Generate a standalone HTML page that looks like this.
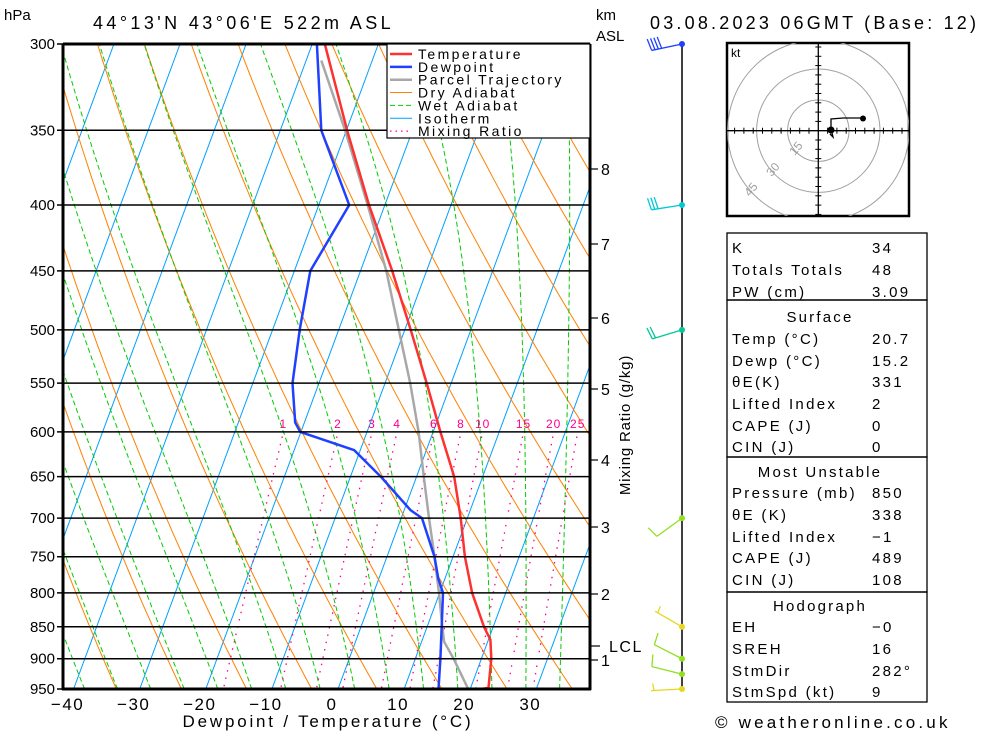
<!DOCTYPE html>
<html><head><meta charset="utf-8"><style>
html,body{margin:0;padding:0;background:#fff;}
svg{display:block;font-family:"Liberation Sans",sans-serif;}
</style></head><body>
<svg id="c" width="1000" height="733" viewBox="0 0 1000 733">
<defs><clipPath id="plotclip"><rect x="63" y="44" width="527" height="645"/></clipPath>
<clipPath id="hodoclip"><rect x="727" y="43" width="182" height="173"/></clipPath></defs>
<g id="grid" clip-path="url(#plotclip)"></g>
<g id="series" clip-path="url(#plotclip)"></g>
<g id="axes"></g>
<text x="4" y="20" font-size="15">hPa</text>
<text x="93" y="29" font-size="18" letter-spacing="3.4">44°13'N 43°06'E 522m ASL</text>
<text x="596" y="20" font-size="15">km</text>
<text x="596" y="41" font-size="15">ASL</text>
<text x="650" y="29" font-size="18" letter-spacing="3.2">03.08.2023 06GMT (Base: 12)</text>
<text x="328" y="727" font-size="17" text-anchor="middle" letter-spacing="2.8">Dewpoint / Temperature (°C)</text>
<text transform="translate(630,425) rotate(-90)" font-size="15" text-anchor="middle" letter-spacing="0.8">Mixing Ratio (g/kg)</text>
<g id="legend"></g>
<g id="winds"></g>
<g id="hodo"></g>
<g id="table"></g>
<text x="715" y="728" font-size="17" letter-spacing="3.2">© weatheronline.co.uk</text>
</svg>
<script>
const tempP=[950,948,900,870,850,800,750,700,650,600,550,500,450,400,350,300];
const tempT=[21.7,22.7,21.5,20.3,18.6,14.9,11.8,9.0,5.7,1.1,-3.7,-9.1,-15.2,-22.4,-29.9,-38.1];
const dewP=[950,900,850,800,780,750,700,690,650,620,600,590,550,500,450,400,350,300];
const dewT=[15.2,13.8,12.2,10.5,9.0,7.2,3.15,0.95,-5.4,-10.9,-20.1,-21.4,-24.0,-25.9,-27.6,-25.4,-33.8,-39.3];
const parP=[950,900,873,850,800,750,700,650,600,550,500,450,400,350,309];
const parT=[19.7,15.8,13.4,12.3,9.9,7.2,4.2,1.1,-2.2,-6.2,-10.9,-16.1,-22.6,-30.2,-37.7];
const pressTicks=[300,350,400,450,500,550,600,650,700,750,800,850,900,950];
const tempTicks=[-40,-30,-20,-10,0,10,20,30];
const mixRatios=[1,2,3,4,6,8,10,15,20,25];
const kmTicks=[8,7,6,5,4,3,2,1];
const kmY=[169,244,318,389,460,527,594,660];
const windP=[300,400,500,700,850,900,925,950];
const windDir=[258,261,253,234,300,297,284,267];
const windSpd=[40,30,20,10,5,10,10,5];
const windCol=['#2040ff','#00c8d8','#00c896','#90e020','#e6d820','#90e020','#90e020','#e6d820'];

const NS='http://www.w3.org/2000/svg';
function mk(tag,attrs,parent){const e=document.createElementNS(NS,tag);for(const k in attrs)e.setAttribute(k,attrs[k]);parent.appendChild(e);return e;}
const Y=p=>44+Math.log(p/300)/Math.log(950/300)*645;
const X=(T,p)=>338+6.61*T+0.37*(689-Y(p));
const grid=document.getElementById('grid'),series=document.getElementById('series'),axes=document.getElementById('axes');
function pl(pts){return pts.map(q=>q[0].toFixed(1)+','+q[1].toFixed(1)).join(' ');}
let e;
for(let T=-110;T<=40;T+=10){
 e=mk('line',{x1:X(T,950),y1:Y(950),x2:X(T,300),y2:Y(300),stroke:'#00a0ff','stroke-width':1},grid);
 
 
}
for(let th=-40;th<=220;th+=10){const pts=[];for(let p=300;p<=950;p+=10){const T=(th+273.15)*Math.pow(p/1000,0.286)-273.15;pts.push([X(T,p),Y(p)]);}
 e=mk('polyline',{points:pl(pts),fill:'none',stroke:'#ff8000','stroke-width':1},grid);
 
 
}
function es(T){return 6.112*Math.exp(17.67*T/(T+243.5));}
for(let t0=-40;t0<=40;t0+=5){let T=t0+273.15;const pts=[];for(let p=1000;p>=300;p-=2){
 if(p<=950)pts.push([X(T-273.15,p),Y(p)]);
 const rs=0.622*es(T-273.15)/(p-es(T-273.15));const Rd=287,cp=1005,L=2.5e6;
 const dTdp=(Rd*T+L*rs)/(p*(cp+L*L*rs*0.622/(Rd*T*T)));T-=dTdp*2;}
 e=mk('polyline',{points:pl(pts),fill:'none',stroke:'#00cc00','stroke-width':1,'stroke-dasharray':'5,3'},grid);
 
 
}
function tdFromW(w,p){const ev=w*p/(622+w);const l=Math.log(ev/6.112);return 243.5*l/(17.67-l)+0.4*Math.sqrt(w);}
mixRatios.forEach(w=>{const pts=[];for(let p=605;p<=950;p+=5)pts.push([X(tdFromW(w,p),p),Y(p)]);
 e=mk('polyline',{points:pl(pts),fill:'none',stroke:'#ff0090','stroke-width':1.3,'stroke-dasharray':'1.5,6'},grid);
 
 
 e=mk('text',{x:X(tdFromW(w,600),600),y:428,'font-size':12,fill:'#ff0090','text-anchor':'middle','letter-spacing':1},axes);e.textContent=w;
 
 
});
pressTicks.forEach(p=>{
 e=mk('line',{x1:57,y1:Y(p),x2:590,y2:Y(p),stroke:'#000','stroke-width':1.5},axes);
 
 
 e=mk('text',{x:55,y:Y(p)+5,'font-size':15,'text-anchor':'end'},axes);e.textContent=p;
 
 
});
function prof(P,T,col,w,name){const pts=P.map((p,i)=>[X(T[i],p),Y(p)]);
 e=mk('polyline',{points:pl(pts),fill:'none',stroke:col,'stroke-width':w,'stroke-linejoin':'round'},series);
 
 }
prof(parP,parT,'#a8a8a8',2.5,'parcel-trajectory');
prof(dewP,dewT,'#2040ff',2.5,'dewpoint-line');
prof(tempP,tempT,'#ff3030',2.5,'temperature-line');
const lg=document.getElementById('legend');
mk('rect',{x:387,y:44,width:203,height:94,fill:'#fff',stroke:'#000','stroke-width':1.2},lg);
const lgN=['Temperature','Dewpoint','Parcel Trajectory','Dry Adiabat','Wet Adiabat','Isotherm','Mixing Ratio'];
const lgC=['#ff3030','#2040ff','#a8a8a8','#ff8000','#00cc00','#00a0ff','#ff0090'];
const lgW=[2.5,2.5,2.5,1,1,1,1.3];
lgN.forEach((n,i)=>{const y=54+i*12.85;
 const ln=mk('line',{x1:390,y1:y,x2:412,y2:y,stroke:lgC[i],'stroke-width':lgW[i]},lg);
 if(i==6)ln.setAttribute('stroke-dasharray','1.5,4');
 if(i==4)ln.setAttribute('stroke-dasharray','5,3');
 e=mk('text',{x:418,y:y+5,'font-size':14,'letter-spacing':2.4},lg);e.textContent=n;
 
 
});
mk('path',{d:'M63,44 L590,44 M63,44 L63,690 M62,689 L591,689 M590,44 L590,690',stroke:'#000','stroke-width':3,fill:'none'},axes);
tempTicks.forEach(T=>{e=mk('text',{x:X(T,950)-6,y:710,'font-size':17,'text-anchor':'middle','letter-spacing':1.5},axes);e.textContent=(T<0?'\u2212'+(-T):T);
 
 });
kmTicks.forEach((k,i)=>{mk('line',{x1:590,y1:kmY[i],x2:598,y2:kmY[i],stroke:'#000','stroke-width':1.2},axes);
 e=mk('text',{x:601,y:kmY[i]+6,'font-size':16},axes);e.textContent=k;
 
 });
mk('line',{x1:590,y1:646,x2:600,y2:646,stroke:'#000','stroke-width':1.2},axes);
e=mk('text',{x:609,y:652,'font-size':16,'letter-spacing':1.5},axes);e.textContent='LCL';


const wg=document.getElementById('winds');
mk('line',{x1:682,y1:44,x2:682,y2:690,stroke:'#000','stroke-width':1.5},wg);
windP.forEach((p,i)=>{const y=Y(p),x=682,d=windDir[i]*Math.PI/180;const ux=Math.sin(d),uy=-Math.cos(d);const bx=-uy,by=ux;
 const c=windCol[i];const tx=x+ux*31,ty=y+uy*31;
 e=mk('line',{x1:x,y1:y,x2:tx,y2:ty,stroke:c,'stroke-width':1.3},wg);
 
 
 let s=windSpd[i],k=0;
 while(s>=10){const sx=tx-ux*k*3.4,sy=ty-uy*k*3.4;mk('line',{x1:sx,y1:sy,x2:sx+bx*12+ux*2,y2:sy+by*12+uy*2,stroke:c,'stroke-width':1.3},wg);s-=10;k++;}
 if(s>=5){const sx=tx-ux*(k*3.4+(k?0:3)),sy=ty-uy*(k*3.4+(k?0:3));mk('line',{x1:sx,y1:sy,x2:sx+bx*7+ux*1,y2:sy+by*7+uy*1,stroke:c,'stroke-width':1.3},wg);}
 mk('circle',{cx:x,cy:y,r:3,fill:c},wg);
});
const hg=document.getElementById('hodo');
mk('rect',{x:727,y:43,width:182,height:173,fill:'#fff',stroke:'#000','stroke-width':2.5},hg);
const hc=mk('g',{'clip-path':'url(#hodoclip)'},hg);
[30.7,61.7,90.7].forEach(r=>mk('circle',{cx:818.3,cy:130.7,r:r,fill:'none',stroke:'#a0a0a0','stroke-width':1},hc));
mk('line',{x1:727,y1:130.7,x2:909,y2:130.7,stroke:'#000','stroke-width':1.3},hg);
mk('line',{x1:818.3,y1:43,x2:818.3,y2:216,stroke:'#000','stroke-width':1.3},hg);
for(let k=-9;k<=9;k++){if(!k)continue;const o=k*9.3;
 mk('line',{x1:818.3+o,y1:127.7,x2:818.3+o,y2:133.7,stroke:'#000','stroke-width':1},hg);
 mk('line',{x1:815.3,y1:130.7+o,x2:821.3,y2:130.7+o,stroke:'#000','stroke-width':1},hg);}
[['15',799,151],['30',776,172],['45',754,192]].forEach(a=>{e=mk('text',{transform:`translate(${a[1]},${a[2]}) rotate(-50)`,'font-size':12,fill:'#a0a0a0','text-anchor':'middle'},hg);e.textContent=a[0];});
e=mk('text',{x:731,y:57,'font-size':12},hg);e.textContent='kt';
mk('polyline',{points:'830,134 833,137 831,129 831,119 843,118 863,118',fill:'none',stroke:'#000','stroke-width':1.3},hg);
mk('circle',{cx:863,cy:118.5,r:3,fill:'#000'},hg);
mk('circle',{cx:831,cy:130,r:3.5,fill:'#000'},hg);
const tb=document.getElementById('table');
[[233,300],[300,457],[457,592],[592,702]].forEach(b=>mk('rect',{x:727,y:b[0],width:200,height:b[1]-b[0],fill:'none',stroke:'#000','stroke-width':1.3},tb));
const rows=[
['K','34',253],['Totals Totals','48',275],['PW (cm)','3.09',297],
['#Surface','',322],['Temp (°C)','20.7',344],['Dewp (°C)','15.2',366],['θE(K)','331',387],['Lifted Index','2',409],['CAPE (J)','0',431],['CIN (J)','0',452],
['#Most Unstable','',477],['Pressure (mb)','850',498],['θE (K)','338',520],['Lifted Index','\u22121',542],['CAPE (J)','489',563],['CIN (J)','108',585],
['#Hodograph','',611],['EH','\u22120',632],['SREH','16',654],['StmDir','282°',676],['StmSpd (kt)','9',697]];
rows.forEach(r=>{if(r[0][0]=='#'){e=mk('text',{x:820,y:r[2],'font-size':15,'text-anchor':'middle','letter-spacing':2.2},tb);e.textContent=r[0].slice(1);}
 else{e=mk('text',{x:732,y:r[2],'font-size':15,'letter-spacing':2.3},tb);e.textContent=r[0];
 const v=mk('text',{x:872,y:r[2],'font-size':15,'letter-spacing':2.3},tb);v.textContent=r[1];
 
 }
 
 
});
</script>
</body></html>
